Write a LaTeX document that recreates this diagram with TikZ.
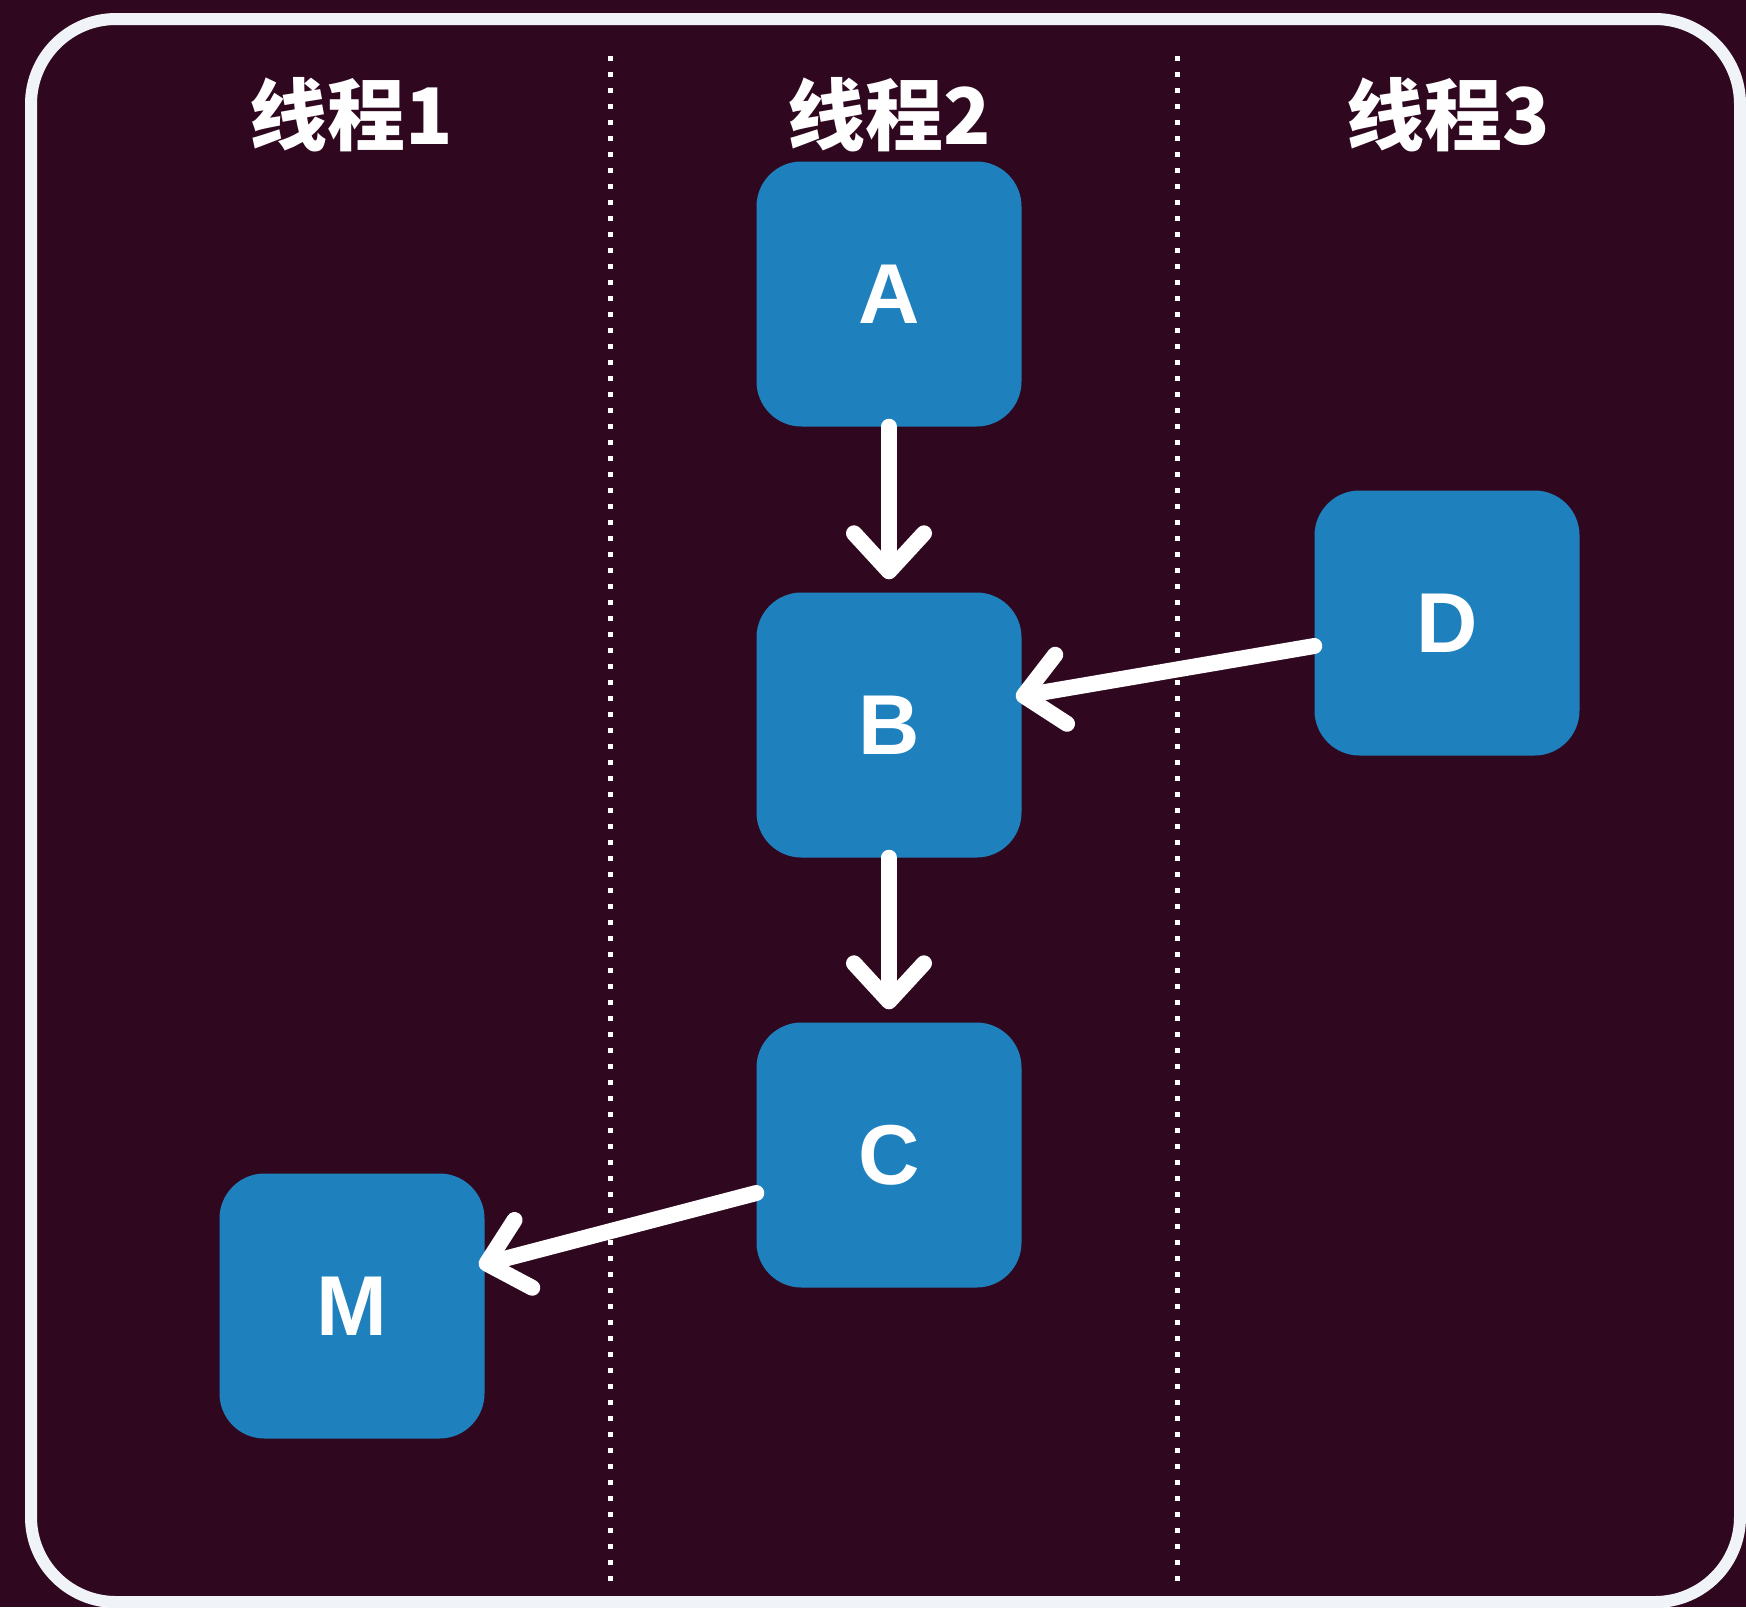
\documentclass[tikz,border=0pt]{standalone}
\usepackage{fontspec}
\setmainfont{Liberation Sans}
\newfontfamily\cjk{Noto Sans CJK SC}
\usetikzlibrary{arrows.meta}
\definecolor{bg}{RGB}{47,8,32}
\definecolor{boxc}{RGB}{31,128,190}
\definecolor{framec}{RGB}{240,244,248}
\begin{document}
\begin{tikzpicture}[x=1pt,y=-1pt,
 box/.style={fill=boxc, rounded corners=45pt, minimum width=265pt, minimum height=265pt, inner sep=0pt, text=white, font=\bfseries\fontsize{85}{90}\selectfont},
 head/.style={text=white, inner sep=0pt, font=\cjk\bfseries\fontsize{78}{80}\selectfont},
 conn/.style={draw=white, line width=16pt, line cap=round, line join=round, -{Straight Barb[length=38pt,width=70pt,line cap=round,line join=round]}},
 sep/.style={draw=white, line width=5pt, dash pattern=on 5pt off 11pt}]
\fill[bg] (0,0) rectangle (1746,1607);
\useasboundingbox (0,0) rectangle (1746,1607);
\draw[framec, line width=12pt, rounded corners=85pt] (31,19) rectangle (1740,1602);
\coordinate (s1t) at (610,56);
\coordinate (s1b) at (610,1582);
\coordinate (s2t) at (1177,56);
\coordinate (s2b) at (1177,1582);
\draw[sep] (s1t) -- (s1b);
\draw[sep] (s2t) -- (s2b);
\node[head] (h1) at (351,115) {线程1};
\node[head] (h2) at (889,115) {线程2};
\node[head] (h3) at (1448,115) {线程3};
\node[box] (A) at (889,294) {A};
\node[box] (B) at (889,725) {B};
\node[box] (C) at (889,1155) {C};
\node[box] (D) at (1447,623) {D};
\node[box] (M) at (352,1306) {M};
\draw[conn, shorten >=13pt] (A.south) -- (B.north);
\draw[conn, shorten >=13pt] (B.south) -- (C.north);
\draw[conn, shorten >=-6pt] ([yshift=-23pt]D.west) -- ([yshift=29pt]B.east);
\draw[conn, shorten >=-6pt] ([yshift=-38pt]C.west) -- ([yshift=42pt]M.east);
\end{tikzpicture}
\end{document}
